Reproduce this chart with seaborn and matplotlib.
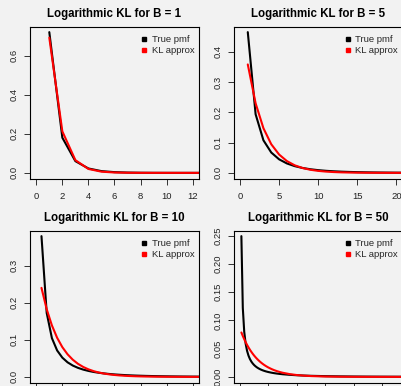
import matplotlib
matplotlib.use("Agg")
import matplotlib.pyplot as plt
from matplotlib.lines import Line2D
import seaborn as sns
import pandas as pd

sns.set_theme(style="white")
plt.rcParams["font.family"] = ["Liberation Sans", "DejaVu Sans"]

BG = "#f2f2f2"

# ---------------- data ----------------
titles = ["Logarithmic KL for B = 1", "Logarithmic KL for B = 5",
          "Logarithmic KL for B = 10", "Logarithmic KL for B = 50"]
legend_labels = ["True pmf", "KL approx"]

k_b1 = [1, 2, 3, 4, 5, 6, 7, 8, 9, 10, 11, 12, 13, 14]
true_b1 = [0.7213, 0.1803, 0.0601, 0.02254, 0.009017, 0.003757, 0.00161,
           0.000704, 0.000313, 0.000141, 0.000064, 0.0000294, 0.0000135, 0.0000063]
kl_b1 = [0.6931, 0.2127, 0.06529, 0.02004, 0.00615, 0.001887, 0.000579,
         0.000178, 0.0000546, 0.0000168, 0.0000051, 0.0000016, 0.0000005, 0.0000002]

k_b5 = list(range(1, 23))
true_b5 = [0.4651, 0.19378, 0.10766, 0.06729, 0.04486, 0.03115, 0.02225, 0.01622,
           0.01202, 0.009014, 0.006829, 0.005216, 0.004012, 0.003105, 0.002415,
           0.001887, 0.001480, 0.001165, 0.000919, 0.000728, 0.000578, 0.000459]
kl_b5 = [0.35835, 0.22994, 0.14754, 0.09467, 0.06074, 0.03898, 0.02501, 0.01605,
         0.01030, 0.006607, 0.004239, 0.002720, 0.001745, 0.001120, 0.000719,
         0.000461, 0.000296, 0.000190, 0.000122, 0.0000781, 0.0000501, 0.0000322]

k_b10 = list(range(1, 33))
true_b10 = [0.37912, 0.17232, 0.10444, 0.07121, 0.05179, 0.03923, 0.03057, 0.02432,
            0.01965, 0.01608, 0.01329, 0.01107, 0.009292, 0.007844, 0.006655,
            0.005672, 0.004853, 0.004167, 0.003589, 0.003099, 0.002684, 0.002329,
            0.002025, 0.001764, 0.001540, 0.001346, 0.001178, 0.001033, 0.000907,
            0.000797, 0.000701, 0.000617]
kl_b10 = [0.23979, 0.18229, 0.13858, 0.10535, 0.08009, 0.06088, 0.04628, 0.03519,
          0.02675, 0.02034, 0.01546, 0.01175, 0.008934, 0.006792, 0.005163,
          0.003925, 0.002984, 0.002268, 0.001725, 0.001311, 0.000997, 0.000758,
          0.000576, 0.000438, 0.000333, 0.000253, 0.000192, 0.000146, 0.000111,
          0.0000845, 0.0000642, 0.0000488]

k_b50 = [1, 2, 3, 4, 5, 6, 7, 8, 9, 10, 11, 12, 13, 14, 15, 16, 17, 18, 19, 20,
         22, 24, 26, 28, 30, 35, 40, 45, 50, 60, 70, 80, 90, 100, 110, 120]
true_b50 = [0.249347, 0.122229, 0.079889, 0.058742, 0.046072, 0.037640, 0.031630,
            0.027133, 0.023646, 0.020864, 0.018596, 0.016712, 0.015124, 0.013768,
            0.012599, 0.011580, 0.010685, 0.009893, 0.009189, 0.008558,
            0.007478, 0.006588, 0.005845, 0.005217, 0.004680, 0.003634, 0.002880,
            0.002318, 0.001890, 0.001292, 0.000908, 0.000652, 0.000476, 0.000351,
            0.000262, 0.000197]
kl_b50 = [0.078637, 0.072453, 0.066756, 0.061506, 0.056669, 0.052213, 0.048107,
          0.044324, 0.040839, 0.037627, 0.034668, 0.031942, 0.029430, 0.027116,
          0.024983, 0.023019, 0.021209, 0.019541, 0.018004, 0.016588,
          0.014082, 0.011954, 0.010148, 0.008615, 0.007313, 0.004856, 0.003225,
          0.002141, 0.001422, 0.000627, 0.000277, 0.000122, 0.0000537, 0.0000237,
          0.0000104, 0.0000046]

x_max = [12, 20, 30, 110]
x_ticks = [[0, 2, 4, 6, 8, 10, 12], [0, 5, 10, 15, 20],
           [0, 5, 10, 15, 20, 25, 30], [0, 20, 40, 60, 80, 100]]
y_ticks = [[0.0, 0.2, 0.4, 0.6], [0.0, 0.1, 0.2, 0.3, 0.4],
           [0.0, 0.1, 0.2, 0.3], [0.00, 0.05, 0.10, 0.15, 0.20, 0.25]]
y_fmt = ["{:.1f}", "{:.1f}", "{:.1f}", "{:.2f}"]
# bottom-row x tick labels fall below the cropped canvas in the reference
show_x_labels = [True, True, False, False]

panels = [(k_b1, true_b1, kl_b1), (k_b5, true_b5, kl_b5),
          (k_b10, true_b10, kl_b10), (k_b50, true_b50, kl_b50)]

# ---------------- layout (pixel based, R-like 2x2, cropped at right/bottom) ----------------
W, H = 402, 386
fig = plt.figure(figsize=(W / 100, H / 100), dpi=100, facecolor=BG)
box_w, box_h = 169, 152
lefts = [30, 233.7, 30, 233.7]
tops = [26.5, 26.5, 230.5, 230.5]

for i, (k, tp, kl) in enumerate(panels):
    ax = fig.add_axes([lefts[i] / W, (H - tops[i] - box_h) / H, box_w / W, box_h / H])
    ax.set_facecolor(BG)
    df = pd.DataFrame({"k": k, "true": tp, "kl": kl})
    sns.lineplot(data=df, x="k", y="true", color="black", linewidth=1.5, ax=ax,
                 legend=False)
    sns.lineplot(data=df, x="k", y="kl", color="#ff0000", linewidth=1.5, ax=ax,
                 legend=False)
    xm = x_max[i]
    ax.set_xlim(-0.04 * xm, xm * 1.04)
    ymax = max(max(tp), max(kl))
    ymin = min(min(tp), min(kl))
    pad = 0.04 * (ymax - ymin)
    ax.set_ylim(ymin - pad, ymax + pad)
    ax.set_xticks(x_ticks[i])
    ax.set_xticklabels([str(t) for t in x_ticks[i]])
    ax.set_yticks(y_ticks[i])
    ax.set_yticklabels([y_fmt[i].format(t) for t in y_ticks[i]], rotation=90,
                       va="center")
    ax.set_xlabel("")
    ax.set_ylabel("")
    for s in ax.spines.values():
        s.set_visible(True)
        s.set_color("black")
        s.set_linewidth(0.8)
    ax.tick_params(axis="both", which="both", direction="out", length=4.3,
                   width=0.7, color="#333333", labelsize=6.8, labelcolor="#222222",
                   bottom=True, left=True)
    ax.tick_params(axis="x", pad=5.5, labelbottom=show_x_labels[i])
    ax.tick_params(axis="y", pad=4.0)
    ax.set_title(titles[i], fontsize=8.3, fontweight="bold", pad=6.5, color="black")
    handles = [Line2D([], [], marker="s", linestyle="", color="black", markersize=3.2),
               Line2D([], [], marker="s", linestyle="", color="#ff0000", markersize=3.2)]
    ax.legend(handles, legend_labels, loc="upper left",
              bbox_to_anchor=(0.658, 0.941), frameon=False, fontsize=6.8,
              borderpad=0, borderaxespad=0, handlelength=0.6, handletextpad=0.52,
              labelspacing=0.16)

fig.savefig("out.png", dpi=100, facecolor=BG)
